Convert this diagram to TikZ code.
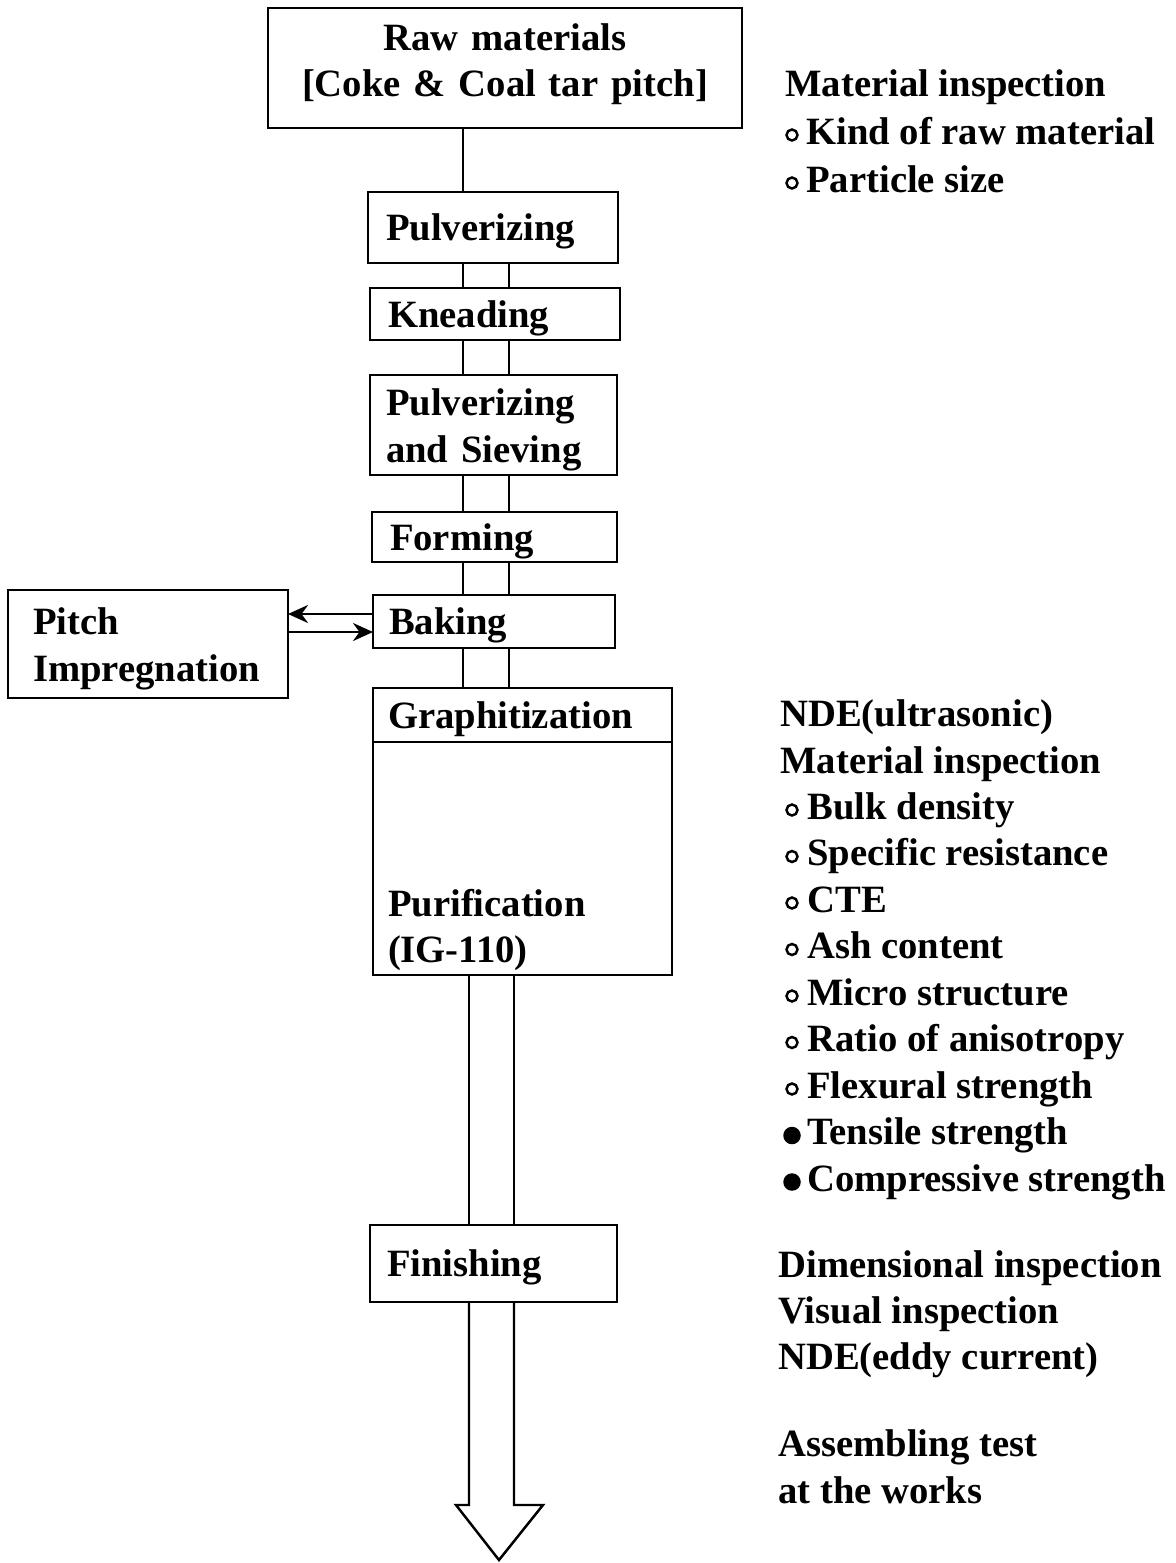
\documentclass[tikz,border=0pt]{standalone}
\usepackage{fontspec}
\setmainfont{Liberation Serif}
\usetikzlibrary{arrows.meta}
\newlength\pu
\setlength\pu{0.02cm}
\tikzset{
  stage/.style={draw, line width=1.6pt, anchor=north west, outer sep=0pt, inner xsep=18\pu, inner ysep=0pt,
    align=left, font=\fontsize{22}{26.5}\selectfont\bfseries},
  oneline/.style={stage, text depth=0pt},
  note/.style={anchor=base west, inner sep=0pt, font=\fontsize{22}{26.5}\selectfont\bfseries},
  pipe/.style={line width=1.4pt},
  link/.style={line width=1.6pt},
  bullet/.style={line width=1.4pt}
}
\begin{document}
\begin{tikzpicture}[x=\pu, y=-\pu, >={Stealth[length=0.4cm, width=0.36cm]}]
    \useasboundingbox (0,0) rectangle (1176,1563);

    % Process stages
    \node[stage, align=center, text width=438\pu, minimum height=120\pu] (raw) at (268,8) {Raw materials\\{}[Coke \& Coal tar pitch]\rule[-16\pu]{0pt}{16\pu}};
    \node[oneline, text width=214\pu, minimum height=71\pu] (pulv) at (368,192) {Pulverizing};
    \node[oneline, text width=214\pu, minimum height=52\pu] (knead) at (370,288) {Kneading};
    \node[stage, inner xsep=16\pu, text width=215\pu, minimum height=100\pu] (sieve) at (370,375) {\rule{0pt}{37\pu}Pulverizing\\and Sieving};
    \node[oneline, text width=209\pu, minimum height=50\pu] (form) at (372,512) {Forming};
    \node[oneline, inner xsep=16\pu, text width=210\pu, minimum height=53\pu] (bake) at (373,595) {Baking};
    \node[stage, inner xsep=25\pu, text width=230\pu, minimum height=108\pu] (pitch) at (8,590) {\rule{0pt}{37\pu}Pitch\\Impregnation};
    \node[oneline, inner xsep=15\pu, text width=269\pu, minimum height=54\pu] (graph) at (373,688) {Graphitization};
    \node[stage, inner xsep=15\pu, text width=269\pu, minimum height=233\pu] (purif) at (graph.south west) {\rule{0pt}{170\pu}Purification\\(IG-110)};
    \node[oneline, inner xsep=17\pu, text width=213\pu, minimum height=77\pu] (fin) at (370,1225) {Finishing};

    % Double line between the stages
    \coordinate (L) at (463,0);
    \coordinate (R) at (509,0);
    \coordinate (L2) at (469,0);
    \coordinate (R2) at (514,0);
    \draw[pipe] (raw.south -| L) -- (pulv.north -| L);
    \foreach \a/\b in {pulv/knead, knead/sieve, sieve/form, form/bake, bake/graph} {
        \draw[pipe] (\a.south -| L) -- (\b.north -| L);
        \draw[pipe] (\a.south -| R) -- (\b.north -| R);
    }
    \draw[pipe] (purif.south -| L2) -- (fin.north -| L2);
    \draw[pipe] (purif.south -| R2) -- (fin.north -| R2);

    % Output arrow
    \coordinate (tip) at (499,1560);
    \draw[pipe, line join=miter] (fin.south -| L2) -- ++(0,203) -- ++(-13,0) -- (tip)
        -- ++(44,-55) -- ++(-29,0) -- (fin.south -| R2);

    % Impregnation loop
    \draw[link, ->] ([yshift=7.5\pu]bake.west) -- ([yshift=7.5\pu]bake.west -| pitch.east);
    \draw[link, ->] ([yshift=-10.5\pu]bake.west -| pitch.east) -- ([yshift=-10.5\pu]bake.west);

    % Inspections
    \node[note] (mat1) at (785,96) {Material inspection};
    \foreach \t [count=\i] in {Kind of raw material, Particle size} {
        \node[note] (kind\i) at (806,144+48*\i-48) {\t};
        \draw[bullet] (kind\i.base west) ++(-14,-9) circle[radius=5.5\pu];
    }

    \node[note] (nde1) at (780,726) {NDE(ultrasonic)};
    \node[note] (mat2) at (780,773) {Material inspection};
    \foreach \t/\f/\r [count=\i] in {Bulk density/white/5.5, Specific resistance/white/5.5, CTE/white/5.5,
        Ash content/white/5.5, Micro structure/white/5.5, Ratio of anisotropy/white/5.5,
        Flexural strength/white/5.5, Tensile strength/black/7.5, Compressive strength/black/7.5} {
        \node[note] (prop\i) at (807,819+46.5*\i-46.5) {\t};
        \draw[bullet, fill=\f] (prop\i.base west) ++(-15,-9) circle[radius=\r\pu];
    }

    \foreach \t [count=\i] in {Dimensional inspection, Visual inspection, NDE(eddy current)} {
        \node[note] (dim\i) at (778,1277+46*\i-46) {\t};
    }
    \node[note] (asm1) at (778,1456) {Assembling test};
    \node[note] (asm2) at (778,1503) {at the works};
\end{tikzpicture}
\end{document}
